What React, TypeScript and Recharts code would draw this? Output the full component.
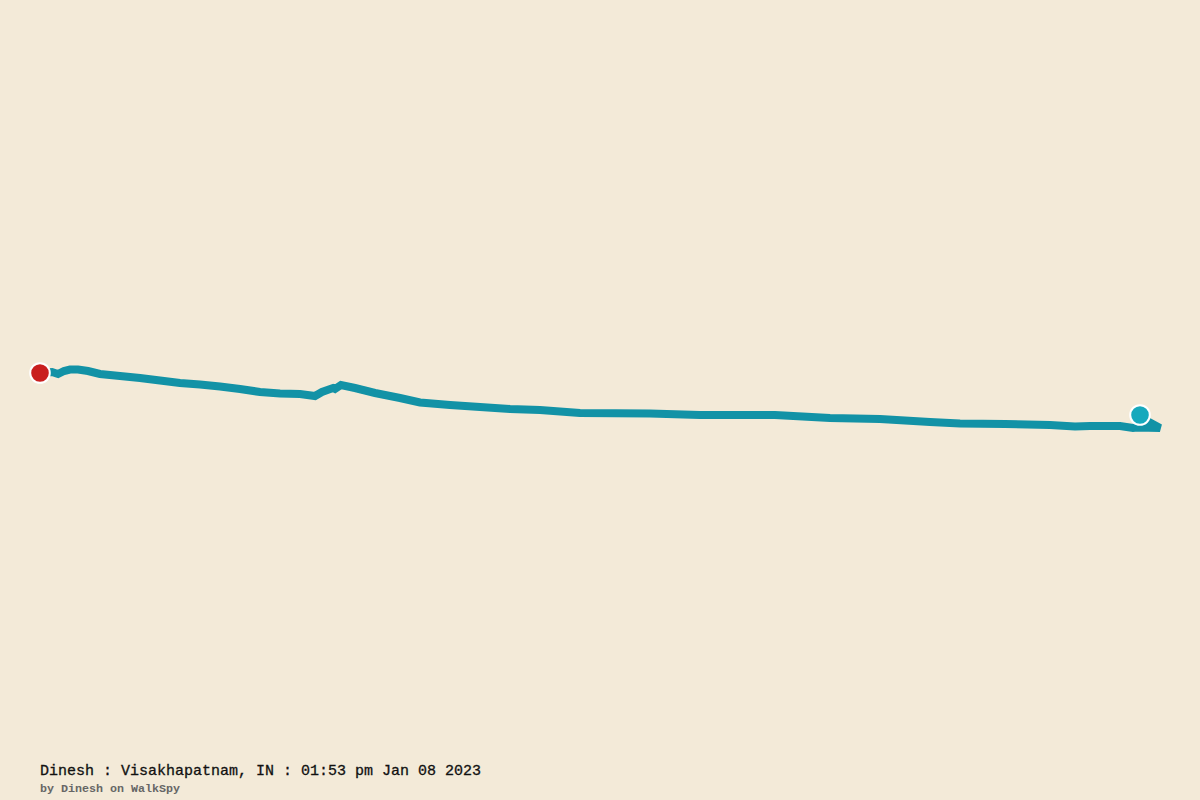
import { ComposedChart, Line, Scatter, XAxis, YAxis } from "recharts";

// track
const trackX = [40, 52, 58, 64, 70, 78, 88, 100, 120, 140, 160, 180, 200, 220, 240, 260, 280, 300, 315, 322, 333, 335, 341, 355, 375, 400, 420, 450, 480, 510, 540, 580, 650, 700, 775, 830, 880, 930, 960, 1005, 1050, 1075, 1090, 1120, 1133, 1137, 1160, 1150, 1145];
const trackY = [373, 372, 374, 371, 369.5, 369.5, 371, 374, 376, 378, 380.5, 383, 384.5, 386.5, 389, 392, 393.5, 394, 396, 392, 388, 389, 385, 388, 393, 398, 402.5, 405, 407, 409, 410, 413, 413.5, 415, 415, 418, 419, 422, 423.5, 424, 425, 426.5, 426, 426, 428, 427.5, 428, 422.5, 424];
const startPoint = [{ x: 40, y: 373 }];
const endPoint = [{ x: 1140, y: 415 }];
const title = "Dinesh : Visakhapatnam, IN : 01:53 pm Jan 08 2023";
const byline = "by Dinesh on WalkSpy";

const data = trackX.map((x, i) => ({ x, y: trackY[i] }));

const marker = (fill: string) => (p: any) => (
  <circle cx={p.cx} cy={p.cy} r={9.8} fill={fill} stroke="#ffffff" strokeWidth={2} />
);

export default function App() {
  return (
    <div style={{ position: "absolute", left: 0, top: 0, width: 1200, height: 800, background: "#f3ead8", overflow: "hidden" }}>
      <ComposedChart width={1200} height={800} data={data} margin={{ top: 0, right: 0, bottom: 0, left: 0 }}>
        <XAxis dataKey="x" type="number" domain={[0, 1200]} hide />
        <YAxis dataKey="y" type="number" domain={[0, 800]} reversed hide />
        <Line dataKey="y" type="linear" stroke="#1292a6" strokeWidth={8} strokeLinejoin="miter" dot={false} activeDot={false} isAnimationActive={false} />
        <Scatter data={startPoint} dataKey="y" shape={marker("#c91f1f")} isAnimationActive={false} />
        <Scatter data={endPoint} dataKey="y" shape={marker("#17a9bd")} isAnimationActive={false} />
      </ComposedChart>
      <div style={{ position: "absolute", left: 40, top: 764, font: "15px 'Liberation Mono'", lineHeight: "16px", color: "#111111", whiteSpace: "pre", WebkitTextStroke: "0.3px #111111" }}>{title}</div>
      <div style={{ position: "absolute", left: 40, top: 782, font: "bold 11.67px 'Liberation Mono'", lineHeight: "14px", color: "#666666", whiteSpace: "pre" }}>{byline}</div>
    </div>
  );
}
